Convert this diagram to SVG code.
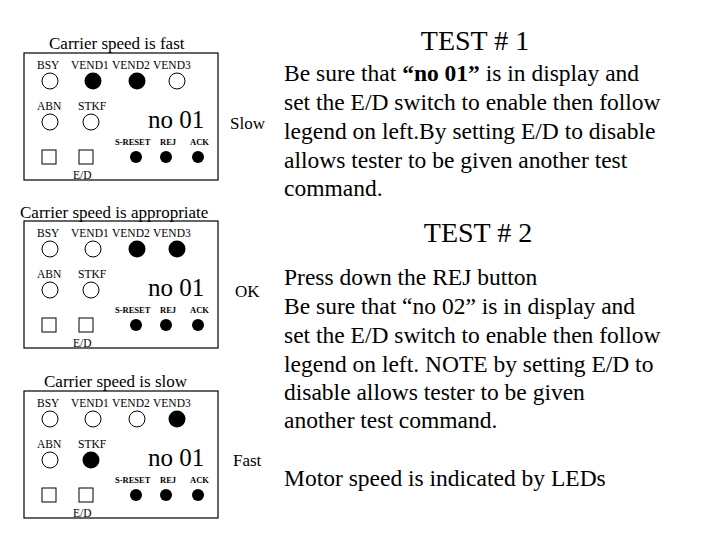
<svg xmlns="http://www.w3.org/2000/svg" width="720" height="540" viewBox="0 0 720 540">
<style>
text{font-family:"Liberation Serif","Times New Roman","DejaVu Serif",serif;fill:#000}
.t{font-size:17px}
.l{font-size:11.5px}
.s{font-size:8.5px;font-weight:bold}
.n{font-size:25px}
.b{fill:none;stroke:#000;stroke-width:1.2}
.o{fill:#fff;stroke:#000;stroke-width:1}
.f{fill:#000}
.p{font-size:23.5px}
.h{font-size:28px}
</style>
<defs>
<g id="panel">
<rect class="b" x="24" y="53" width="194" height="127"/>
<text class="l" x="37" y="69">BSY</text>
<text class="l" x="71" y="69">VEND1</text>
<text class="l" x="112" y="69">VEND2</text>
<text class="l" x="153" y="69">VEND3</text>
<text class="l" x="37" y="110">ABN</text>
<text class="l" x="78" y="110">STKF</text>
<text class="n" x="148" y="128">no 01</text>
<text class="s" x="115" y="145">S-RESET</text>
<text class="s" x="160" y="145">REJ</text>
<text class="s" x="190" y="145">ACK</text>
<circle class="f" cx="136" cy="157" r="6"/>
<circle class="f" cx="166" cy="157" r="6"/>
<circle class="f" cx="198" cy="157" r="6"/>
<rect class="o" x="42" y="150" width="14" height="14"/>
<rect class="o" x="79" y="150" width="14" height="14"/>
<text class="l" x="73" y="179">E/D</text>
</g>
</defs>
<g id="panel1">
<use href="#panel"/>
<text class="t" x="49" y="49">Carrier speed is fast</text>
<circle class="o" cx="50" cy="81" r="8"/>
<circle class="f" cx="93" cy="81" r="8.5"/>
<circle class="f" cx="137" cy="81" r="8.5"/>
<circle class="o" cx="177" cy="81" r="8"/>
<circle class="o" cx="50" cy="122" r="8"/>
<circle class="o" cx="91" cy="122" r="8"/>
<text class="t" x="230" y="129">Slow</text>
</g>
<g id="panel2" transform="translate(0,168)">
<use href="#panel"/>
<text class="t" x="20" y="50">Carrier speed is appropriate</text>
<circle class="o" cx="50" cy="81" r="8"/>
<circle class="o" cx="93" cy="81" r="8"/>
<circle class="f" cx="137" cy="81" r="8.5"/>
<circle class="f" cx="177" cy="81" r="8.5"/>
<circle class="o" cx="50" cy="122" r="8"/>
<circle class="o" cx="91" cy="122" r="8"/>
<text class="t" x="235" y="129">OK</text>
</g>
<g id="panel3" transform="translate(0,338)">
<use href="#panel"/>
<text class="t" x="44" y="49">Carrier speed is slow</text>
<circle class="o" cx="50" cy="81" r="8"/>
<circle class="o" cx="93" cy="81" r="8"/>
<circle class="o" cx="137" cy="81" r="8"/>
<circle class="f" cx="177" cy="81" r="8.5"/>
<circle class="o" cx="50" cy="122" r="8"/>
<circle class="f" cx="91" cy="122" r="8.5"/>
<text class="t" x="233" y="128">Fast</text>
</g>
<g id="test1">
<text class="h" x="475" y="50" text-anchor="middle">TEST # 1</text>
<text class="p" x="284" y="81">Be sure that <tspan font-weight="bold">“no 01”</tspan> is in display and</text>
<text class="p" x="284" y="110">set the E/D switch to enable then follow</text>
<text class="p" x="284" y="139">legend on left.By setting E/D to disable</text>
<text class="p" x="284" y="168">allows tester to be given another test</text>
<text class="p" x="284" y="196">command.</text>
</g>
<g id="test2">
<text class="h" x="478" y="242" text-anchor="middle">TEST # 2</text>
<text class="p" x="284" y="285">Press down the REJ button</text>
<text class="p" x="284" y="314">Be sure that “no 02” is in display and</text>
<text class="p" x="284" y="343">set the E/D switch to enable then follow</text>
<text class="p" x="284" y="372">legend on left. NOTE by setting E/D to</text>
<text class="p" x="284" y="400">disable allows tester to be given</text>
<text class="p" x="284" y="428">another test command.</text>
<text class="p" x="284" y="486">Motor speed is indicated by LEDs</text>
</g>
</svg>
